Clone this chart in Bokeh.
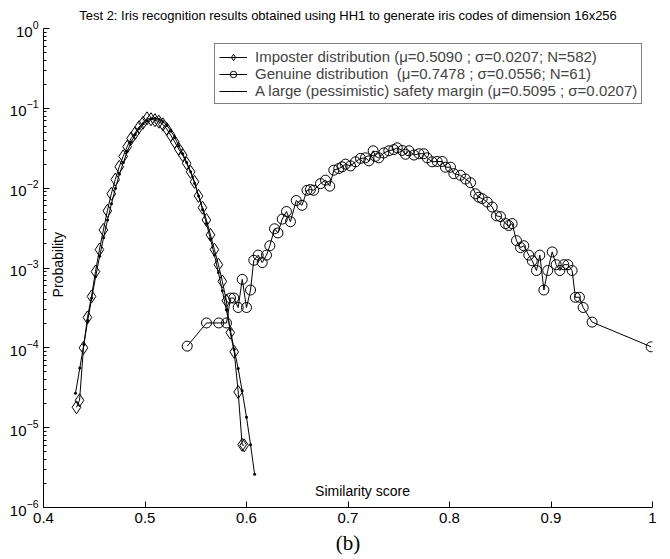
from bokeh.plotting import figure
from bokeh.models import Range1d, FixedTicker, CustomJSTickFormatter, Label, Legend, LegendItem, Title
from bokeh.embed import file_html
from bokeh.resources import INLINE

# ---- data ----
imp_x = [0.4325, 0.4355, 0.4394, 0.4433, 0.4473, 0.4512, 0.4551, 0.4590, 0.4629, 0.4668,
         0.4707, 0.4746, 0.4785, 0.4824, 0.4863, 0.4902, 0.4941, 0.4980, 0.5020, 0.5059,
         0.5098, 0.5137, 0.5176, 0.5215, 0.5254, 0.5293, 0.5332, 0.5371, 0.5410, 0.5449,
         0.5488, 0.5527, 0.5566, 0.5605, 0.5645, 0.5684, 0.5723, 0.5762, 0.5801, 0.5840,
         0.5879, 0.5918, 0.5957, 0.5977]
imp_y = [1.8e-5, 2.2e-5, 1.0e-4, 2.4e-4, 4.4e-4, 9.0e-4, 1.7e-3, 3.0e-3, 5.2e-3, 8.5e-3,
         1.28e-2, 1.85e-2, 2.5e-2, 3.3e-2, 4.2e-2, 4.9e-2, 5.8e-2, 6.6e-2, 7.5e-2, 7.3e-2,
         7.1e-2, 6.8e-2, 6.3e-2, 5.5e-2, 4.6e-2, 3.8e-2, 3.1e-2, 2.6e-2, 2.05e-2, 1.6e-2,
         1.2e-2, 8.0e-3, 5.7e-3, 4.0e-3, 2.6e-3, 1.7e-3, 1.1e-3, 6.8e-4, 3.9e-4, 1.55e-4,
         8.9e-5, 2.8e-5, 6.1e-6, 6.0e-6]

safe_x = [0.4315, 0.4358, 0.4397, 0.4436, 0.4475, 0.4514, 0.4553, 0.4592, 0.4631, 0.4670,
          0.4709, 0.4748, 0.4787, 0.4826, 0.4865, 0.4904, 0.4943, 0.4982, 0.5021, 0.5060,
          0.5099, 0.5138, 0.5177, 0.5216, 0.5255, 0.5294, 0.5333, 0.5372, 0.5411, 0.5450,
          0.5489, 0.5528, 0.5567, 0.5606, 0.5645, 0.5684, 0.5723, 0.5762, 0.5801, 0.5840,
          0.5879, 0.5918, 0.5957, 0.6000, 0.6040, 0.6080]
safe_y = [2.7e-5, 5.6e-5, 1.1e-4, 2.2e-4, 4.2e-4, 7.8e-4, 1.4e-3, 2.4e-3, 4.0e-3, 6.4e-3,
          1.0e-2, 1.5e-2, 2.1e-2, 2.9e-2, 3.8e-2, 4.7e-2, 5.6e-2, 6.4e-2, 7.0e-2, 7.4e-2,
          7.5e-2, 7.3e-2, 6.8e-2, 6.1e-2, 5.2e-2, 4.3e-2, 3.4e-2, 2.7e-2, 2.1e-2, 1.6e-2,
          1.15e-2, 8.0e-3, 5.4e-3, 3.6e-3, 2.3e-3, 1.45e-3, 8.8e-4, 5.2e-4, 3.0e-4, 1.7e-4,
          9.5e-5, 5.5e-5, 2.9e-5, 1.35e-5, 6.1e-6, 2.6e-6]

gen_x = [0.5416, 0.5606, 0.5727, 0.5803, 0.5842, 0.5875, 0.5918, 0.5958, 0.6000, 0.6040,
         0.6072, 0.6115, 0.6155, 0.6197, 0.6230, 0.6276, 0.6310, 0.6352, 0.6394, 0.6433,
         0.6490, 0.6547, 0.6596, 0.6629, 0.6662, 0.6729, 0.6778, 0.6820, 0.6860, 0.6909,
         0.6942, 0.6975, 0.7025, 0.7074, 0.7123, 0.7172, 0.7205, 0.7248, 0.7270, 0.7303,
         0.7353, 0.7402, 0.7451, 0.7485, 0.7534, 0.7567, 0.7600, 0.7650, 0.7700, 0.7746,
         0.7780, 0.7829, 0.7878, 0.7928, 0.7960, 0.8010, 0.8043, 0.8108, 0.8158, 0.8207,
         0.8256, 0.8289, 0.8322, 0.8372, 0.8421, 0.8463, 0.8502, 0.8552, 0.8584, 0.8617,
         0.8660, 0.8700, 0.8732, 0.8781, 0.8815, 0.8857, 0.8890, 0.8930, 0.8968, 0.9012,
         0.9051, 0.9087, 0.9126, 0.9166, 0.9208, 0.9240, 0.9280, 0.9317, 0.9405, 0.9987]
gen_y = [1.05e-4, 2.05e-4, 2.05e-4, 2.05e-4, 4.2e-4, 4.2e-4, 3.2e-4, 7.2e-4, 3.2e-4, 5.3e-4,
         1.25e-3, 1.45e-3, 1.17e-3, 1.45e-3, 1.9e-3, 3.1e-3, 2.75e-3, 4.1e-3, 5.1e-3, 3.8e-3,
         7.0e-3, 6.1e-3, 9.4e-3, 9.6e-3, 9.4e-3, 1.14e-2, 1.26e-2, 1.06e-2, 1.68e-2, 1.76e-2,
         1.85e-2, 2.0e-2, 1.9e-2, 2.14e-2, 2.36e-2, 2.4e-2, 2.2e-2, 2.94e-2, 2.5e-2, 2.4e-2,
         2.76e-2, 2.94e-2, 3.04e-2, 3.2e-2, 2.97e-2, 2.66e-2, 2.94e-2, 2.6e-2, 2.7e-2, 2.7e-2,
         2.4e-2, 2.14e-2, 2.16e-2, 2.16e-2, 1.83e-2, 1.83e-2, 1.52e-2, 1.45e-2, 1.3e-2, 1.17e-2,
         8.5e-3, 7.7e-3, 7.4e-3, 6.7e-3, 5.8e-3, 4.5e-3, 4.4e-3, 3.6e-3, 3.4e-3, 3.6e-3,
         2.2e-3, 1.8e-3, 1.9e-3, 1.45e-3, 1.23e-3, 9.3e-4, 1.45e-3, 5.3e-4, 9.3e-4, 1.59e-3,
         1.1e-3, 9.3e-4, 1.1e-3, 1.1e-3, 9.3e-4, 4.3e-4, 4.3e-4, 3.2e-4, 2.1e-4, 1.03e-4]

x_ticks = [0.4, 0.5, 0.6, 0.7, 0.8, 0.9, 1.0]
y_ticks = [1e-6, 1e-5, 1e-4, 1e-3, 1e-2, 1e-1, 1e0]

title_text = "Test 2: Iris recognition results obtained using HH1 to generate iris codes of dimension 16x256"
imp_label = "Imposter distribution (\u03bc=0.5090 ; \u03c3=0.0207; N=582)"
gen_label = "Genuine distribution  (\u03bc=0.7478 ; \u03c3=0.0556; N=61)"
safe_label = "A large (pessimistic) safety margin (\u03bc=0.5095 ; \u03c3=0.0207)"

FONT = "Liberation Sans"

p = figure(width=670, height=559, y_axis_type="log",
           x_range=Range1d(0.4, 1.0), y_range=Range1d(1e-6, 1.0),
           output_backend="svg", toolbar_location=None,
           min_border_left=43, min_border_right=18, min_border_top=27, min_border_bottom=52)
p.outline_line_color = None
p.xgrid.visible = False
p.ygrid.visible = False
p.background_fill_color = "white"
p.border_fill_color = "white"

p.title.text = title_text
p.title.align = "center"
p.title.offset = 8
p.title.text_font = FONT
p.title.text_font_size = "13px"
p.title.text_font_style = "normal"
p.title.text_color = "black"
p.title.standoff = 11

r_imp_l = p.line(imp_x, imp_y, line_color="black", line_width=1)
r_imp_m = p.scatter(imp_x, imp_y, marker="diamond", size=13, fill_color=None, line_color="black", line_width=1)
r_gen_l = p.line(gen_x, gen_y, line_color="black", line_width=1)
r_gen_m = p.scatter(gen_x, gen_y, marker="circle", size=10, fill_color=None, line_color="black", line_width=1)
r_safe_l = p.line(safe_x, safe_y, line_color="black", line_width=1)
r_safe_m = p.scatter(safe_x, safe_y, marker="dot", size=12, line_color="black", fill_color="black")

# axes
minor = []
for k in range(-6, 0):
    for m in range(2, 10):
        minor.append(m * 10.0 ** k)
p.yaxis.ticker = FixedTicker(ticks=y_ticks, minor_ticks=minor)
p.xaxis.ticker = FixedTicker(ticks=x_ticks)
p.xaxis.formatter = CustomJSTickFormatter(code="return Number(tick.toFixed(1)).toString();")
for ax in (p.xaxis, p.yaxis):
    ax.axis_line_color = "black"
    ax.major_tick_line_color = "black"
    ax.minor_tick_line_color = "black"
    ax.major_tick_in = 6
    ax.major_tick_out = 0
    ax.minor_tick_in = 3
    ax.minor_tick_out = 0
    ax.major_label_text_font = FONT
    ax.major_label_text_font_size = "15px"
    ax.major_label_text_color = "black"
    ax.major_label_standoff = 5

# legend
legend = Legend(items=[
    LegendItem(label=imp_label, renderers=[r_imp_l, r_imp_m]),
    LegendItem(label=gen_label, renderers=[r_gen_l, r_gen_m]),
    LegendItem(label=safe_label, renderers=[r_safe_l, r_safe_m]),
], location=(171, 403))
legend.label_text_font = FONT
legend.label_text_font_size = "15px"
legend.label_height = 16
legend.glyph_height = 16
legend.glyph_width = 28
legend.spacing = 0
legend.padding = 4
legend.margin = 0
legend.label_standoff = 8
legend.border_line_color = "black"
legend.border_line_width = 1
legend.background_fill_alpha = 1
p.add_layout(legend)

# texts
p.add_layout(Label(x=0.4138, y=1.1e-3, text="Probability", angle=1.5708, text_align="center",
                   text_baseline="middle", text_font=FONT, text_font_size="14px", text_color="black"))
p.add_layout(Label(x=0.7143, y=1.63e-6, text="Similarity score", text_align="center", text_baseline="middle",
                   text_font=FONT, text_font_size="14px", text_color="black"))
p.add_layout(Title(text="(b)", align="center", offset=-4, text_font="Liberation Serif", text_font_size="21px",
                   text_font_style="normal", text_color="black", standoff=6), "below")

open("out.html", "w").write(file_html(p, INLINE))
